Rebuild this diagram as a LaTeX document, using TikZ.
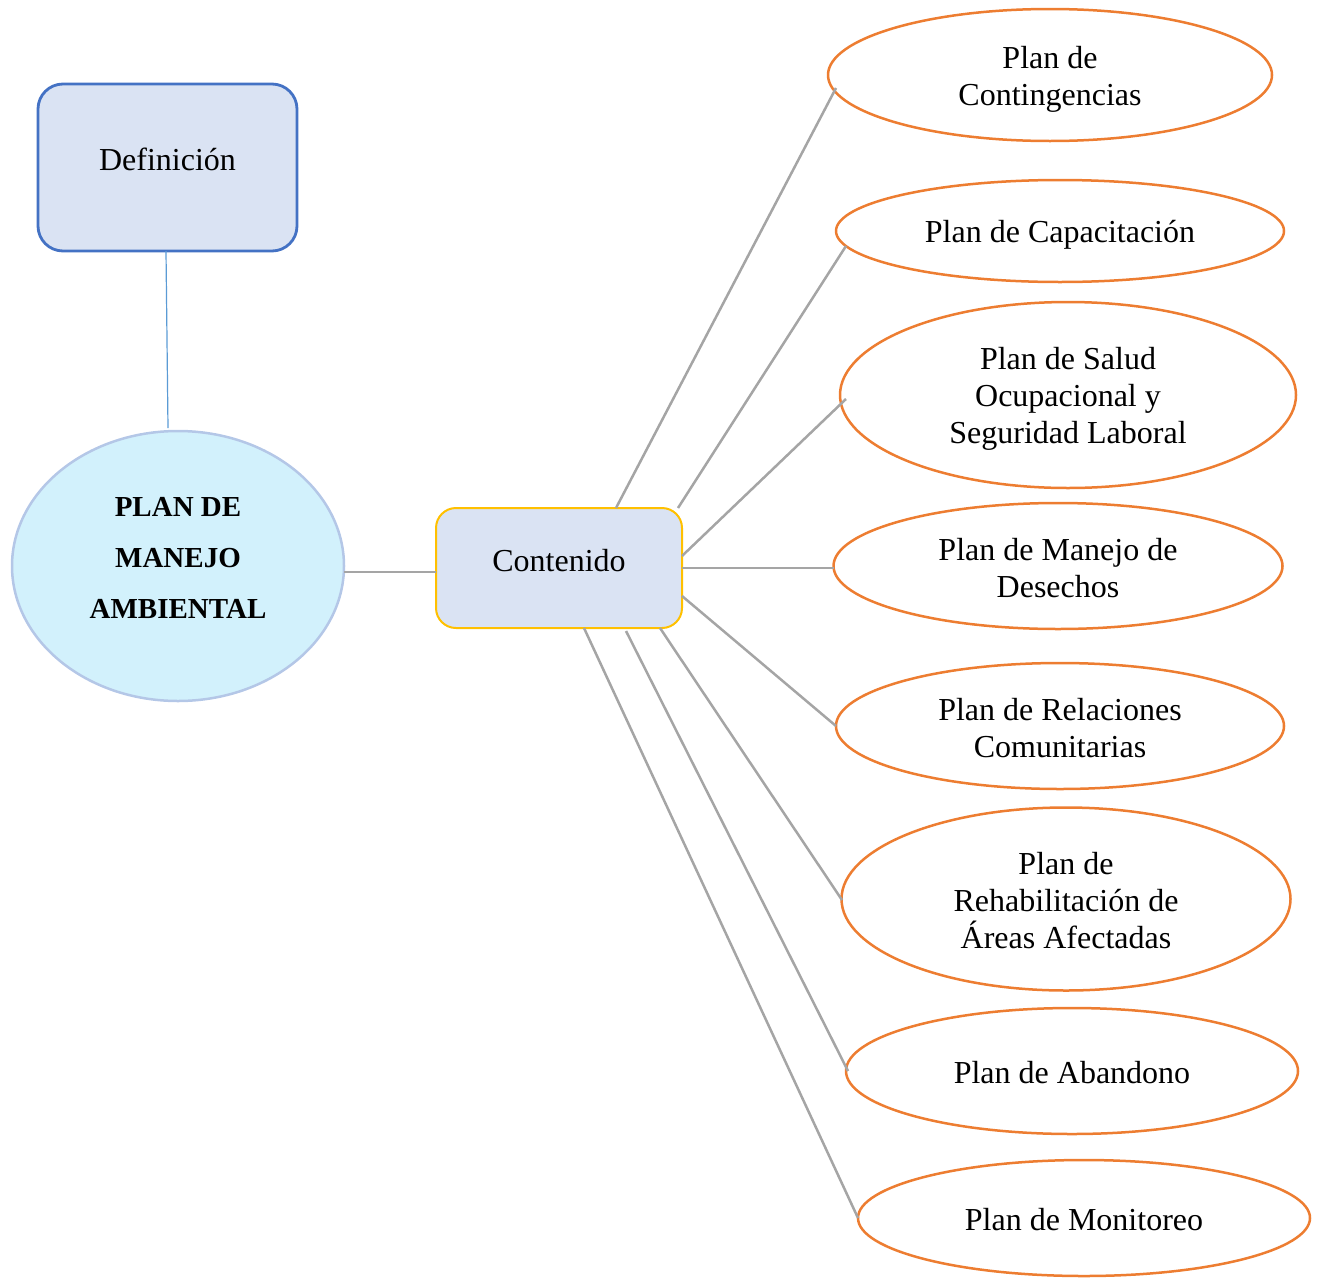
\documentclass[tikz,border=0pt]{standalone}
\usepackage{fontspec}
\setmainfont{Liberation Serif}
\usetikzlibrary{shapes.geometric,calc}
\definecolor{boxfill}{HTML}{DAE3F3}
\definecolor{boxblue}{HTML}{4472C4}
\definecolor{linkblue}{HTML}{5B9BD5}
\definecolor{mainfill}{HTML}{D2F1FC}
\definecolor{mainedge}{HTML}{B4C7E7}
\definecolor{orng}{HTML}{ED7D31}
\definecolor{gold}{HTML}{FFC000}
\definecolor{linkgray}{HTML}{A5A5A5}
\newcommand\topstrt{\rule{0pt}{30pt}}
\newcommand\botstrt{\rule[-5pt]{0pt}{5pt}}
\begin{document}
\begin{tikzpicture}[x=1pt,y=-1pt,
  every node/.style={inner sep=0pt, outer sep=0pt},
  txt/.style={font=\fontsize{32}{37}\selectfont, align=center},
  planell/.style={ellipse, draw=orng, line width=2.5pt, fill=white, txt},
  defbox/.style={rectangle, rounded corners=25pt, draw=boxblue, line width=2.8pt, fill=boxfill,
    font=\fontsize{32}{37}\selectfont, text height=22pt, text depth=16pt},
  contbox/.style={rectangle, rounded corners=20pt, draw=gold, line width=2pt, fill=boxfill,
    font=\fontsize{32}{37}\selectfont, text height=22pt, text depth=16pt},
  mainell/.style={ellipse, draw=mainedge, line width=2.5pt, fill=mainfill,
    font=\fontsize{29}{51}\selectfont\bfseries, align=center},
  glink/.style={draw=linkgray, line width=2.5pt},
  blink/.style={draw=linkblue, line width=1.2pt}
]
\useasboundingbox (0,0) rectangle (1319,1277);

\node[defbox, minimum width=259pt, minimum height=167pt] (def) at (167.5,167.5) {Definición};
\node[mainell, minimum width=332pt, minimum height=270pt] (pma) at (178,566) {PLAN DE\\MANEJO\\AMBIENTAL\rule[-16pt]{0pt}{16pt}};
\node[contbox, minimum width=246pt, minimum height=120pt] (cont) at (559,568) {Contenido};

\node[planell, minimum width=444pt, minimum height=132pt] (e1) at (1050,75) {\topstrt Plan de\\Contingencias\botstrt};
\node[planell, minimum width=448pt, minimum height=102pt] (e2) at (1060,231) {\topstrt Plan de Capacitación\botstrt};
\node[planell, minimum width=456pt, minimum height=186pt] (e3) at (1068,395) {\topstrt Plan de Salud\\Ocupacional y\\Seguridad Laboral\botstrt};
\node[planell, minimum width=449pt, minimum height=126pt] (e4) at (1058,566) {\topstrt Plan de Manejo de\\Desechos\botstrt};
\node[planell, minimum width=448pt, minimum height=126pt] (e5) at (1060,726) {\topstrt Plan de Relaciones\\Comunitarias\botstrt};
\node[planell, minimum width=449pt, minimum height=183pt] (e6) at (1066,899) {\topstrt Plan de\\Rehabilitación de\\Áreas Afectadas\botstrt};
\node[planell, minimum width=452pt, minimum height=126pt] (e7) at (1072,1071) {\topstrt Plan de Abandono\botstrt};
\node[planell, minimum width=452pt, minimum height=116pt] (e8) at (1084,1218) {\topstrt Plan de Monitoreo\botstrt};

\draw[blink] ($(def.center)+(-1.5,83.5)$) -- ($(pma.center)+(-10,-138)$);
\draw[glink] ($(pma.center)+(166,6)$) -- ($(cont.center)+(-123,4)$);

\draw[glink] ($(cont.center)+(57,-60)$) -- ($(e1.center)+(-214,13)$);
\draw[glink] ($(cont.center)+(119,-60)$) -- ($(e2.center)+(-214,15)$);
\draw[glink] ($(cont.center)+(123,-12)$) -- ($(e3.center)+(-222,4)$);
\draw[glink] ($(cont.center)+(123,0)$) -- ($(e4.center)+(-224,2)$);
\draw[glink] ($(cont.center)+(123,28)$) -- ($(e5.center)+(-224,0)$);
\draw[glink] ($(cont.center)+(101,60)$) -- ($(e6.center)+(-224,1)$);
\draw[glink] ($(cont.center)+(67,63)$) -- ($(e7.center)+(-224,0)$);
\draw[glink] ($(cont.center)+(25,60)$) -- ($(e8.center)+(-226,0)$);
\end{tikzpicture}
\end{document}
